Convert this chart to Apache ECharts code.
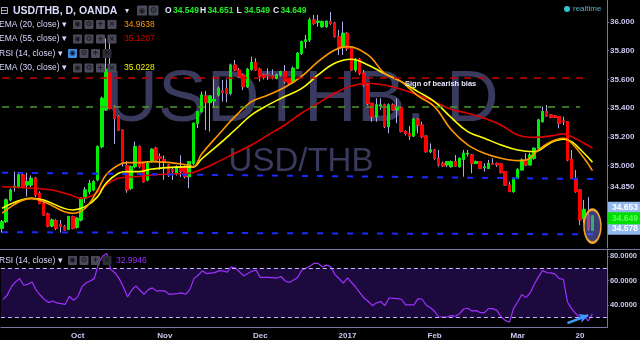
<!DOCTYPE html>
<html><head><meta charset="utf-8">
<script src="https://cdn.jsdelivr.net/npm/echarts@6/dist/echarts.min.js"></script>
<style>html,body{margin:0;padding:0;background:#000}#c{width:640px;height:340px}</style>
</head><body><div id="c"></div>
<script>
// ---------- DATA ----------
const slotCount = 146; // trading-day slots on the x axis (last 3 are empty)
const tickIndex = [18, 39, 62, 83, 104, 124, 139];
const tickText  = ['Oct', 'Nov', 'Dec', '2017', 'Feb', 'Mar', '20'];
const priceTicks = [34.85, 35.0, 35.2, 35.4, 35.6, 35.8, 36.0];
const rsiTicks = [40, 60, 80];

// daily candles: [open, close, low, high]
const candles = [
[34.562,34.608,34.532,34.620],[34.608,34.760,34.600,34.770],[34.760,34.829,34.750,34.840],[34.850,34.855,34.818,34.957],
[34.852,34.934,34.840,34.950],[34.934,34.852,34.840,34.950],[34.864,34.887,34.783,34.950],[34.864,34.911,34.850,34.930],
[34.911,34.794,34.780,34.920],[34.806,34.736,34.730,34.820],[34.736,34.655,34.650,34.745],[34.662,34.578,34.570,34.670],
[34.578,34.620,34.570,34.630],[34.615,34.562,34.550,34.625],[34.590,34.575,34.532,34.620],[34.573,34.550,34.545,34.585],
[34.555,34.643,34.550,34.650],[34.643,34.562,34.555,34.650],[34.569,34.632,34.560,34.640],[34.620,34.771,34.610,34.780],
[34.771,34.829,34.740,34.850],[34.818,34.875,34.800,34.900],[34.829,34.887,34.820,34.900],[34.900,35.131,34.890,35.140],
[35.131,35.468,35.120,35.480],[35.387,35.670,35.380,35.886],[35.665,35.398,35.390,35.863],[35.410,35.329,35.150,35.420],
[35.340,35.247,35.240,35.350],[35.247,35.015,34.992,35.250],[35.000,34.829,34.810,35.030],[34.841,34.992,34.830,35.000],
[34.992,35.131,34.980,35.166],[35.131,34.992,34.980,35.140],[35.015,34.887,34.880,35.020],[34.899,35.015,34.890,35.030],
[35.027,35.113,35.020,35.120],[35.120,35.038,35.030,35.130],[35.060,35.050,34.970,35.085],[35.040,35.030,34.900,35.070],
[35.004,34.934,34.920,35.010],[34.970,34.960,34.899,34.990],[34.946,34.992,34.930,35.000],[34.990,34.960,34.920,35.070],
[34.992,34.922,34.910,35.000],[34.922,35.027,34.841,35.030],[35.015,35.294,35.000,35.300],[35.294,35.375,35.260,35.380],
[35.375,35.491,35.370,35.514],[35.484,35.438,35.247,35.520],[35.438,35.484,35.236,35.490],[35.450,35.460,35.400,35.620],
[35.491,35.538,35.480,35.550],[35.520,35.510,35.445,35.596],[35.538,35.503,35.440,35.600],[35.503,35.700,35.490,35.710],
[35.700,35.665,35.660,35.735],[35.665,35.619,35.610,35.680],[35.631,35.549,35.526,35.640],[35.549,35.670,35.540,35.680],
[35.670,35.717,35.660,35.758],[35.717,35.665,35.660,35.747],[35.670,35.624,35.584,35.680],[35.631,35.614,35.600,35.640],
[35.630,35.625,35.596,35.677],[35.625,35.620,35.600,35.670],[35.607,35.631,35.600,35.640],[35.631,35.654,35.620,35.660],
[35.654,35.584,35.570,35.700],[35.607,35.573,35.560,35.610],[35.584,35.677,35.570,35.690],[35.677,35.782,35.670,35.790],
[35.782,35.863,35.770,35.870],[35.863,35.875,35.816,35.910],[35.875,36.014,35.860,36.030],[36.014,35.991,35.980,36.049],
[35.998,36.005,35.967,36.050],[35.967,36.002,35.960,36.010],[35.967,36.005,35.960,36.010],[36.002,35.991,35.980,36.070],
[35.991,35.898,35.890,36.000],[35.898,35.816,35.770,35.944],[35.828,35.921,35.770,36.002],[35.921,35.816,35.800,35.930],
[35.816,35.665,35.660,35.820],[35.665,35.740,35.650,35.750],[35.740,35.642,35.630,35.750],[35.642,35.561,35.549,35.665],
[35.561,35.433,35.420,35.570],[35.433,35.340,35.305,35.430],[35.340,35.422,35.305,35.468],[35.415,35.422,35.387,35.468],
[35.422,35.271,35.260,35.430],[35.271,35.422,35.224,35.433],[35.422,35.387,35.380,35.433],[35.387,35.403,35.294,35.468],
[35.403,35.236,35.230,35.410],[35.236,35.224,35.210,35.245],[35.224,35.205,35.178,35.275],[35.205,35.322,35.200,35.330],
[35.322,35.282,35.224,35.330],[35.282,35.201,35.190,35.305],[35.205,35.096,35.090,35.210],[35.096,35.108,35.085,35.154],
[35.108,35.050,35.040,35.115],[35.050,35.004,34.992,35.108],[35.015,34.998,34.990,35.027],[35.004,35.027,34.990,35.030],
[34.992,35.027,34.985,35.035],[35.027,34.997,34.990,35.073],[34.992,35.050,34.985,35.055],[35.043,35.085,34.922,35.108],
[35.080,35.085,35.062,35.108],[35.073,35.015,34.946,35.080],[35.015,35.027,35.010,35.035],[35.027,34.980,34.975,35.030],
[34.985,34.990,34.957,35.015],[34.980,35.015,34.975,35.038],[35.015,35.010,35.004,35.050],[35.015,35.004,34.990,35.020],
[35.010,34.950,34.945,35.015],[34.957,34.864,34.860,34.960],[34.864,34.818,34.815,34.887],[34.818,34.911,34.810,34.915],
[34.911,34.973,34.905,34.980],[34.969,35.038,34.965,35.050],[35.038,35.004,34.995,35.085],[35.004,35.073,35.000,35.090],
[35.050,35.120,35.040,35.125],[35.120,35.317,35.115,35.325],[35.305,35.375,35.300,35.410],[35.375,35.345,35.340,35.422],
[35.352,35.336,35.330,35.356],[35.345,35.336,35.330,35.350],[35.340,35.294,35.259,35.345],[35.310,35.305,35.282,35.340],
[35.305,35.038,35.030,35.310],[35.043,34.911,34.905,35.108],[34.899,34.818,34.810,34.969],[34.829,34.620,34.585,34.835],
[34.632,34.694,34.597,34.760],[34.653,34.560,34.545,34.780],[34.549,34.649,34.549,34.651]
];

// moving averages: [bar index, value]
const ema20 = [[0,34.667],[7,34.771],[10,34.748],[17,34.667],[20,34.702],[23,34.829],[25,34.934],[28,35.003],[30,35.020],[33,35.020],[36,35.027],[45,35.003],[46,34.990],[48,35.080],[52,35.213],[56,35.340],[60,35.445],[64,35.491],[68,35.545],[72,35.620],[76,35.723],[80,35.805],[83,35.828],[88,35.770],[92,35.642],[96,35.584],[100,35.485],[104,35.410],[108,35.250],[112,35.143],[116,35.085],[120,35.050],[124,35.034],[126,35.038],[129,35.108],[132,35.166],[135,35.190],[137,35.155],[140,35.050],[142,34.964]];
const ema30 = [[0,34.702],[7,34.771],[10,34.760],[17,34.690],[20,34.713],[23,34.783],[25,34.876],[28,34.946],[30,34.957],[33,34.957],[36,34.975],[44,34.990],[46,34.990],[48,35.045],[52,35.143],[56,35.247],[60,35.352],[64,35.422],[68,35.480],[72,35.535],[76,35.631],[80,35.712],[84,35.740],[88,35.700],[92,35.640],[96,35.584],[100,35.515],[104,35.445],[108,35.335],[112,35.236],[116,35.190],[120,35.143],[124,35.108],[128,35.096],[132,35.159],[135,35.183],[137,35.166],[140,35.085],[142,35.023]];
const ema55 = [[0,34.852],[8,34.841],[12,34.829],[16,34.799],[19,34.771],[22,34.794],[25,34.864],[28,34.911],[32,34.922],[36,34.934],[40,34.941],[45,34.946],[48,34.973],[52,35.027],[56,35.085],[60,35.143],[64,35.213],[68,35.282],[72,35.364],[76,35.433],[80,35.503],[84,35.554],[88,35.573],[92,35.561],[96,35.531],[100,35.491],[104,35.445],[108,35.392],[112,35.364],[116,35.329],[120,35.282],[124,35.213],[128,35.196],[132,35.206],[135,35.220],[137,35.201],[140,35.155],[142,35.121]];

const rsi = [[0,44.6],[1,48.1],[2,54.9],[3,58.9],[4,61.6],[5,56.2],[6,57.0],[7,58.9],[8,52.2],[9,48.1],[10,44.6],[11,42.2],[12,43.5],[13,41.9],[14,41.4],[15,40.8],[16,47.3],[17,44.1],[18,46.8],[19,54.9],[20,58.1],[21,59.7],[22,61.6],[23,73.8],[24,79.8],[25,81.9],[26,68.9],[27,66.2],[28,61.6],[29,54.9],[30,46.8],[31,52.2],[32,55.7],[33,52.2],[34,48.9],[35,52.7],[36,54.1],[37,51.6],[39,51.6],[40,48.9],[42,49.5],[43,50.0],[44,48.9],[45,52.7],[46,61.6],[47,64.3],[48,67.9],[49,65.7],[51,66.5],[52,67.9],[53,67.9],[54,66.8],[55,71.1],[56,70.2],[58,63.8],[60,67.7],[61,68.4],[62,62.6],[64,62.6],[66,62.0],[67,63.3],[68,59.7],[69,58.5],[71,62.6],[72,68.4],[74,71.8],[75,74.1],[76,73.7],[77,71.1],[78,72.5],[79,71.1],[80,64.9],[81,61.5],[82,58.0],[83,62.2],[85,54.6],[86,50.0],[87,45.9],[88,43.1],[89,39.7],[90,42.0],[91,43.1],[92,39.7],[93,45.9],[95,45.4],[96,44.9],[97,40.3],[99,40.3],[100,45.4],[101,44.9],[102,40.0],[103,38.0],[104,35.0],[105,30.5],[107,30.5],[108,31.6],[109,31.1],[110,33.2],[111,37.0],[112,37.6],[113,35.4],[114,35.7],[115,34.1],[116,34.1],[117,37.3],[118,37.3],[119,35.9],[120,30.5],[121,27.8],[122,26.2],[123,37.3],[124,42.7],[125,48.7],[126,46.2],[127,50.0],[128,57.0],[129,63.0],[130,68.1],[131,66.5],[132,66.2],[133,65.2],[134,61.6],[135,61.1],[136,42.7],[137,37.3],[138,33.2],[139,30.0],[140,31.9],[141,27.3],[142,33.0]];

// horizontal / trend levels drawn on the price pane
const resistanceLevel = 35.61;
const midLevel = 35.412;
const upperTrend = [[0, 34.95], [144, 34.905]];
const lowerTrend = [[0, 34.535], [144, 34.52]];
const priceFlags = [34.653, 34.578];
const lastClose = 34.649;
const rsiBands = [30, 70];
const rsiArrow = [[136, 25.6], [141, 31.9]];

// header readouts
const headerOHLC = ['34.549', '34.651', '34.549', '34.649'];
const ema20Last = '34.9638', ema55Last = '35.1207', ema30Last = '35.0228', rsiLast = '32.9946';

// ---------- CHART ----------
const FONT = "'Liberation Sans', Arial, sans-serif";
const LAV = '#c8c8f0';
const AXIS = '#7676a2';
const categories = Array.from({length: slotCount}, (_, i) => String(i));
const bodies = candles.map(([o, c]) => [o, c, Math.min(o, c), Math.max(o, c)]);

function t(x, y, text, fill, size, weight, align, family) {
  return {type: 'text', x, y, z: 100, style: {text, fill, font: (weight || 'normal') + ' ' + size + 'px ' + (family || FONT), textAlign: align || 'left', verticalAlign: 'middle', textVerticalAlign: 'middle'}};
}
function box(x, y, fill, glyph, gfill) {
  return [
    {type: 'rect', z: 100, shape: {x, y: y - 4.5, width: 9, height: 9, r: 1}, style: {fill}},
    t(x + 4.5, y, glyph, gfill || '#16161e', 7.5, 'bold', 'center', "'DejaVu Sans', sans-serif")
  ];
}
const G = [];
// watermark
G.push({type: 'text', x: 302, y: 101, z: -1, style: {text: 'USDTHB, D', fill: '#3a3a5e', font: '73px ' + FONT, textAlign: 'center', verticalAlign: 'middle', textVerticalAlign: 'middle'}});
G.push({type: 'text', x: 301, y: 162, z: -1, style: {text: 'USD/THB', fill: '#3a3a5e', font: '33px ' + FONT, textAlign: 'center', verticalAlign: 'middle', textVerticalAlign: 'middle'}});
// title row
G.push(t(0, 11, '⊟', '#d8d8ff', 10, 'normal', 'left', "'DejaVu Sans', sans-serif"));
G.push(t(13, 11, 'USD/THB, D, OANDA', '#dcdcff', 10.5, 'bold'));
G.push(t(125, 11, '▾', '#dcdcff', 8, 'normal', 'left', "'DejaVu Sans', sans-serif"));
G.push({type: 'rect', z: 100, shape: {x: 137, y: 5.5, width: 10, height: 10, r: 1}, style: {fill: '#4a4a5a'}});
G.push({type: 'rect', z: 100, shape: {x: 148.5, y: 5.5, width: 10, height: 10, r: 1}, style: {fill: '#4a4a5a'}});
G.push(t(142, 11, '◉', '#18181e', 7.5, 'normal', 'center', "'DejaVu Sans', sans-serif"));
G.push(t(153.5, 11, '⚙', '#18181e', 8.5, 'normal', 'center', "'DejaVu Sans', sans-serif"));
[['O', 165, 173], ['H', 200, 207.5], ['L', 236.5, 244], ['C', 273, 280.5]].forEach(([k, lx, vx], i) => {
  G.push(t(lx, 11, k, '#e4e4ff', 8.5, 'bold'));
  G.push(t(vx, 11, headerOHLC[i], '#22ee22', 8.5, 'bold'));
});
// indicator rows
const rows = [
  {y: 24.5, name: 'EMA (20, close)', val: ema20Last, col: '#ff9a00', bx: 73},
  {y: 39, name: 'EMA (55, close)', val: ema55Last, col: '#d00000', bx: 73},
  {y: 53.5, name: 'RSI (14, close)', val: null, col: null, bx: 68, rsi: true},
  {y: 68, name: 'EMA (30, close)', val: ema30Last, col: '#f4f000', bx: 73}
];
rows.forEach(r => {
  G.push(t(-1, r.y, r.name + ' ▾', '#d8d8ff', 8.5, 'normal'));
  G.push(...box(r.bx, r.y, r.rsi ? '#3d8ee6' : '#4a4a5a', '◉'));
  G.push(...box(r.bx + 11.5, r.y, '#4a4a5a', '⚙'));
  G.push(...box(r.bx + 23, r.y, '#4a4a5a', '+'));
  G.push(...box(r.bx + 34.5, r.y, r.rsi ? '#2e2e38' : '#4a4a5a', '×'));
  if (r.val) G.push(t(124, r.y, r.val, r.col, 8.5, 'normal'));
});
// RSI pane header
G.push(t(-1, 260.5, 'RSI (14, close) ▾', '#d8d8ff', 8.5, 'normal'));
G.push(...box(68, 260.5, '#4a4a5a', '◉'));
G.push(...box(79.5, 260.5, '#4a4a5a', '⚙'));
G.push(...box(91, 260.5, '#4a4a5a', '+'));
G.push(...box(102.5, 260.5, '#2e2e38', '×'));
G.push(t(116, 260.5, rsiLast, '#9a30ff', 8.5, 'normal'));
// realtime
G.push({type: 'circle', z: 100, shape: {cx: 567, cy: 9, r: 3}, style: {fill: '#35c3d3'}});
G.push(t(573, 9, 'realtime', '#52b6c6', 8, 'normal'));
// annotation
G.push(t(405, 84, 'Sign of bearish bias', '#e8e8ff', 7.5, 'bold'));
// pane separator
G.push({type: 'line', z: 50, shape: {x1: 0, y1: 249.5, x2: 640, y2: 249.5}, style: {stroke: AXIS, lineWidth: 1}});

const flagLabel = (val, color, bg, dy) => ({show: true, position: 'end', distance: 1, fontSize: 8.5, fontFamily: FONT, fontWeight: 'bold',
  padding: [2, 6, 1, 4], color, backgroundColor: bg, offset: [0, dy], formatter: () => val.toFixed(3)});

const chart = echarts.init(document.getElementById('c'), null, {renderer: 'canvas'});
chart.setOption({
  backgroundColor: '#000',
  animation: false,
  graphic: G,
  grid: [
    {left: 0, right: 33, top: 0, height: 248},
    {left: 0, right: 33, top: 249.5, height: 78}
  ],
  xAxis: [
    {type: 'category', gridIndex: 0, data: categories, boundaryGap: true, axisLine: {show: false}, axisTick: {show: false}, axisLabel: {show: false}, splitLine: {show: false}},
    {type: 'category', gridIndex: 1, data: categories, boundaryGap: true,
      axisLine: {show: true, lineStyle: {color: AXIS}}, axisTick: {show: false}, splitLine: {show: false},
      axisLabel: {interval: 0, margin: 4, color: LAV, fontSize: 8, fontWeight: 'bold', fontFamily: FONT,
        formatter: (v, i) => { const j = tickIndex.indexOf(i); return j >= 0 ? tickText[j] : ''; }}}
  ],
  yAxis: [
    {type: 'value', gridIndex: 0, position: 'right', min: 34.425, max: 36.153, scale: true,
      splitLine: {show: false}, axisLine: {show: true, lineStyle: {color: AXIS}},
      axisTick: {show: true, length: 2, lineStyle: {color: AXIS}, customValues: priceTicks},
      axisLabel: {customValues: priceTicks, margin: 3, color: LAV, fontSize: 8, fontWeight: 'bold', fontFamily: FONT, formatter: v => v.toFixed(3)}},
    {type: 'value', gridIndex: 1, position: 'right', min: 22, max: 85.2,
      splitLine: {show: false}, axisLine: {show: true, lineStyle: {color: AXIS}},
      axisTick: {show: true, length: 2, lineStyle: {color: AXIS}, customValues: rsiTicks},
      axisLabel: {customValues: rsiTicks, margin: 3, color: LAV, fontSize: 7.5, fontWeight: 'bold', fontFamily: FONT, formatter: v => v.toFixed(4)}}
  ],
  series: [
    {
      name: 'wicks', type: 'candlestick', xAxisIndex: 0, yAxisIndex: 0, data: candles, barWidth: 3, z: 2,
      itemStyle: {color: 'rgba(0,0,0,0)', color0: 'rgba(0,0,0,0)', borderColor: '#aeaee6', borderColor0: '#aeaee6', borderWidth: 1},
      markLine: {
        silent: true, symbol: 'none', animation: false,
        data: [
          [{coord: [0, resistanceLevel]}, {coord: [140, resistanceLevel]}],
          [{coord: [0, midLevel], lineStyle: {color: '#4e9a2e', type: [7, 7], width: 1.5}}, {coord: [139, midLevel]}],
          [{coord: upperTrend[0], lineStyle: {color: '#1a2cff', type: [6, 9], width: 2}}, {coord: upperTrend[1]}],
          [{coord: lowerTrend[0], lineStyle: {color: '#1a2cff', type: [6, 9], width: 2}}, {coord: lowerTrend[1]}]
        ],
        lineStyle: {color: '#c40000', type: [7, 7], width: 1.5},
        label: {show: false}
      }
    },
    {
      name: 'bodies', type: 'candlestick', xAxisIndex: 0, yAxisIndex: 0, data: bodies, barWidth: 3, z: 3,
      itemStyle: {color: '#00ee00', color0: '#ff0000', borderColor: '#00ee00', borderColor0: '#ff0000', borderWidth: 1},
      markLine: {
        silent: true, symbol: 'none', animation: false, z: 20,
        lineStyle: {color: 'rgba(0,0,0,0)', width: 0},
        data: [
          {yAxis: priceFlags[0], label: flagLabel(priceFlags[0], '#ffffff', '#92b8ee', -8)},
          {yAxis: priceFlags[1], label: flagLabel(priceFlags[1], '#ffffff', '#92b8ee', 3)},
          {yAxis: lastClose, label: flagLabel(lastClose, '#58ff58', '#00dd00', 2.5)}
        ]
      },
      markPoint: {
        silent: true, animation: false,
        data: [{coord: [candles.length - 1, priceFlags[1]], symbol: 'circle', symbolSize: [17, 33],
          itemStyle: {color: 'rgba(105,115,215,0.55)', borderColor: '#f2a12a', borderWidth: 2}, label: {show: false}}]
      }
    },
    {name: 'EMA55', type: 'line', xAxisIndex: 0, yAxisIndex: 0, data: ema55, smooth: 0.4, symbol: 'none', z: 4, lineStyle: {color: '#e00000', width: 1.6}},
    {name: 'EMA30', type: 'line', xAxisIndex: 0, yAxisIndex: 0, data: ema30, smooth: 0.4, symbol: 'none', z: 4, lineStyle: {color: '#ffff00', width: 1.6}},
    {name: 'EMA20', type: 'line', xAxisIndex: 0, yAxisIndex: 0, data: ema20, smooth: 0.4, symbol: 'none', z: 4, lineStyle: {color: '#ff9800', width: 1.6}},
    {
      name: 'RSI', type: 'line', xAxisIndex: 1, yAxisIndex: 1, data: rsi, symbol: 'none', z: 4,
      lineStyle: {color: '#a030ff', width: 1.2},
      markArea: {silent: true, itemStyle: {color: '#1c0a3e'}, data: [[{yAxis: rsiBands[0]}, {yAxis: rsiBands[1]}]]},
      markLine: {
        silent: true, symbol: 'none', animation: false, label: {show: false},
        lineStyle: {color: '#c4b4ff', type: [4, 3], width: 1},
        data: [
          {yAxis: rsiBands[1]}, {yAxis: rsiBands[0]},
          [{coord: rsiArrow[0], symbol: 'none', lineStyle: {color: '#3f9cff', type: 'solid', width: 2.5}},
           {coord: rsiArrow[1], symbol: 'arrow', symbolSize: [7, 9]}]
        ]
      }
    }
  ]
});
</script></body></html>
